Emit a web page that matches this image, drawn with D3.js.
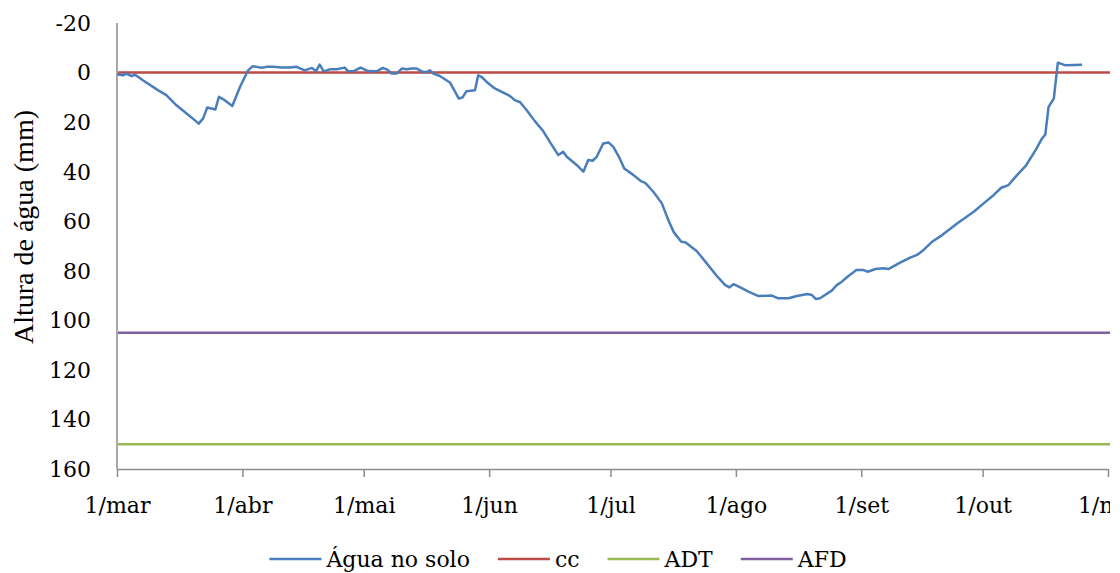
<!DOCTYPE html>
<html>
<head>
<meta charset="utf-8">
<script src="https://cdn.jsdelivr.net/npm/d3@7"></script>
<style>
  body { margin: 0; background: #fff; }
  svg { display: block; }
  .tick-label { font-family: "DejaVu Serif", serif; font-size: 22px; fill: #000; }
  .axis-title { font-family: "Liberation Serif", serif; font-size: 28px; fill: #000; }
</style>
</head>
<body>
<div id="chart"></div>
<script>
// Dias desde 1/mar e altura de água no solo (mm)
const dias = [0, 1.5, 2.3, 3.6, 4.4, 6.4, 10.1, 12.2, 14.7, 17.2, 19.2, 20.2, 21.3, 22.3, 24.3, 25.2,
  26.4, 28.5, 30.4, 32.4, 33.5, 34.5, 35.7, 37, 38.6, 40.7, 42.7, 44.4, 46.4, 48.2, 49.2, 50.1,
  51.1, 52.6, 54.3, 56.3, 57.1, 58.4, 60.2, 62.1, 64.2, 65.7, 66.8, 67.9, 69.1, 70.4, 71.6, 72.8,
  74.1, 75.7, 76.4, 77.4, 78.2, 79.8, 82.3, 83.6, 84.5, 85.4, 86.4, 88.5, 89.3, 90.2, 91.4, 93.4,
  97.1, 98.4, 99.6, 101.3, 103.3, 105.4, 107, 109.1, 110.3, 111.2, 113.7, 115.3, 116.5, 117.6,
  118.6, 120.2, 121.5, 122.7, 124.1, 125.4, 127.7, 129.5, 130.6, 132.6, 134.7, 136.3, 137.6,
  139.5, 140.5, 143.3, 145.8, 148.3, 150.3, 151.4, 152.4, 154.1, 156.1, 158.6, 161.9, 163.5,
  166, 168.1, 170.7, 171.8, 172.8, 173.8, 176.7, 178, 179.2, 180.6, 182.8, 184.6, 185.6, 187.5,
  189.5, 190.7, 193.6, 196.1, 197.8, 199.4, 201.5, 204, 207.7, 211.8, 214.7, 216.7, 218.6,
  220.4, 222.5, 224.6, 227.1, 228.7, 229.5, 230.3, 231.6, 232.6, 234.5, 238.6];
const aguaNoSolo = [0.7, 1.1, 0.4, 1.4, 0.8, 3.1, 7.1, 9.1, 13.2, 16.5, 19.2, 20.6, 18.5, 14.1, 14.9, 9.8,
  10.9, 13.5, 5.8, -0.9, -2.5, -2.3, -1.9, -2.3, -2.3, -2, -2, -2.3, -0.9, -1.9, -0.5, -3.2,
  -0.5, -1.3, -1.3, -2, -0.6, -0.5, -2, -0.6, -0.5, -1.9, -1.2, 0.4, 0.4, -1.6, -1.3, -1.6,
  -1.6, -0.2, -0.2, -0.9, 0.4, 1.4, 4, 7.8, 10.5, 10.1, 7.5, 7.1, 1.1, 1.8, 3.8, 6.4,
  9.4, 11.2, 11.9, 15.2, 19.6, 23.7, 28, 33.3, 32, 34, 37.4, 40, 35.3, 35.6,
  34, 28.6, 28.2, 30, 34, 38.7, 41.4, 43.8, 44.5, 48.1, 52.8, 59.5, 64.3,
  68.3, 68.5, 72, 77, 82.1, 85.7, 86.7, 85.4, 86.7, 88.4, 90.2, 90, 91.1,
  91.1, 90.2, 89.4, 89.8, 91.4, 91.1, 88, 85.7, 84.4, 82.4, 79.7, 79.7, 80.4, 79.3,
  79, 79.3, 76.7, 74.7, 73.6, 71.6, 68.3, 65.6, 60.9, 56.2, 52.2, 49.5, 46.5,
  45.4, 41.4, 37.8, 31.3, 26.6, 25, 13.9, 10.5, -4, -2.9, -3.1];

// Níveis de referência (mm)
const cc = 0;
const ADT = 150;
const AFD = 105;

const mesesLabels = ["1/mar", "1/abr", "1/mai", "1/jun", "1/jul", "1/ago", "1/set", "1/out", "1/nov"];
const yTicks = [-20, 0, 20, 40, 60, 80, 100, 120, 140, 160];

const series = [
  { name: "Água no solo", color: "#4A7EBB" },
  { name: "cc", color: "#BE4B48" },
  { name: "ADT", color: "#98B954" },
  { name: "AFD", color: "#7D60A0" }
];

const W = 1120, H = 573;
const plot = { left: 117, right: 1108, top: 23, bottom: 469 };

const svg = d3.select("#chart").append("svg")
  .attr("width", W).attr("height", H);

const t0 = new Date(Date.UTC(2013, 2, 1));
const t1 = new Date(Date.UTC(2013, 10, 1));
const toDate = d => new Date(t0.getTime() + d * 864e5);

const x = d3.scaleUtc().domain([t0, t1]).range([plot.left, plot.right]);
const y = d3.scaleLinear().domain([-20, 160]).range([plot.top, plot.bottom]);

// --- Eixo Y (sem marcas) ---
svg.append("line")
  .attr("x1", plot.left).attr("x2", plot.left)
  .attr("y1", y(-20)).attr("y2", y(160))
  .attr("stroke", "#8c8c8c").attr("stroke-width", 1.5);

svg.selectAll(".ylab").data(yTicks).enter().append("text")
  .attr("class", "tick-label")
  .attr("x", 91).attr("y", d => y(d))
  .attr("dy", "0.36em")
  .attr("text-anchor", "end")
  .text(d => d);

// --- Eixo X ---
const monthDates = d3.utcMonth.range(t0, d3.utcDay.offset(t1, 1));
svg.append("clipPath").attr("id", "clipX")
  .append("rect").attr("x", 0).attr("y", -10).attr("width", 1110).attr("height", 80);

const xAxis = d3.axisBottom(x)
  .tickValues(monthDates)
  .tickFormat((d, i) => mesesLabels[i])
  .tickSize(8)
  .tickSizeOuter(0);

const gx = svg.append("g")
  .attr("transform", `translate(0,${plot.bottom})`)
  .attr("clip-path", "url(#clipX)")
  .call(xAxis);
gx.select(".domain").attr("stroke", "#8c8c8c").attr("stroke-width", 1.5);
gx.selectAll(".tick line").attr("stroke", "#8c8c8c").attr("stroke-width", 1.5);
gx.selectAll(".tick text")
  .attr("class", "tick-label")
  .attr("y", 44).attr("dy", 0)
  .style("font-family", "DejaVu Serif, serif")
  .style("font-size", "22px");

// --- Linhas de referência ---
const refs = [
  { v: cc, color: series[1].color },
  { v: ADT, color: series[2].color },
  { v: AFD, color: series[3].color }
];
svg.selectAll(".ref").data(refs).enter().append("line")
  .attr("x1", plot.left + 1).attr("x2", plot.right + 2)
  .attr("y1", d => y(d.v)).attr("y2", d => y(d.v))
  .attr("stroke", d => d.color).attr("stroke-width", 2.5);

// --- Água no solo ---
const pts = dias.map((d, i) => [toDate(d), aguaNoSolo[i]]);
svg.append("path")
  .datum(pts)
  .attr("fill", "none")
  .attr("stroke", series[0].color)
  .attr("stroke-width", 2.5)
  .attr("stroke-linejoin", "round")
  .attr("d", d3.line().x(d => x(d[0])).y(d => y(d[1])));

// --- Título do eixo Y ---
svg.append("text")
  .attr("class", "axis-title")
  .attr("transform", `translate(33,227) rotate(-90)`)
  .attr("text-anchor", "middle")
  .text("Altura de água (mm)");

// --- Legenda ---
const legY = 559;
const lineLen = 52, gapText = 5, gapItem = 28;
const leg = svg.append("g");
let cx = 0;
series.forEach(s => {
  const g = leg.append("g").attr("transform", `translate(${cx},0)`);
  g.append("line")
    .attr("x1", 0).attr("x2", lineLen)
    .attr("y1", 0).attr("y2", 0)
    .attr("stroke", s.color).attr("stroke-width", 2.5);
  const t = g.append("text")
    .attr("class", "tick-label")
    .attr("x", lineLen + gapText).attr("y", 0)
    .attr("dy", "0.36em")
    .text(s.name);
  cx += lineLen + gapText + t.node().getComputedTextLength() + gapItem;
});
const legW = cx - gapItem;
leg.attr("transform", `translate(${558 - legW / 2},${legY})`);
</script>
</body>
</html>
